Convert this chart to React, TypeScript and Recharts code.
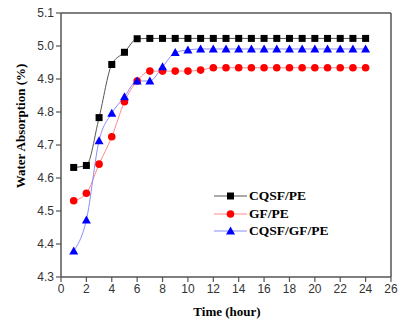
import React from "react";
import { LineChart, Line, XAxis, YAxis, ReferenceLine } from "recharts";

const hours = [1, 2, 3, 4, 5, 6, 7, 8, 9, 10, 11, 12, 13, 14, 15, 16, 17, 18, 19, 20, 21, 22, 23, 24];
const cqsfPE = [4.632, 4.638, 4.783, 4.944, 4.981, 5.022, 5.023, 5.023, 5.023, 5.023, 5.023, 5.023, 5.023, 5.023, 5.023, 5.023, 5.023, 5.023, 5.023, 5.023, 5.023, 5.023, 5.023, 5.023];
const gfPE = [4.531, 4.554, 4.642, 4.725, 4.831, 4.894, 4.924, 4.924, 4.924, 4.924, 4.927, 4.934, 4.934, 4.934, 4.934, 4.934, 4.934, 4.934, 4.934, 4.934, 4.934, 4.934, 4.934, 4.934];
const cqsfGfPE = [4.379, 4.473, 4.713, 4.796, 4.846, 4.894, 4.894, 4.937, 4.98, 4.988, 4.991, 4.991, 4.991, 4.991, 4.991, 4.991, 4.991, 4.991, 4.991, 4.991, 4.991, 4.991, 4.991, 4.991];

const xTicks = [0, 2, 4, 6, 8, 10, 12, 14, 16, 18, 20, 22, 24, 26];
const xMinorTicks = [1, 3, 5, 7, 9, 11, 13, 15, 17, 19, 21, 23, 25];
const yTicks = [4.3, 4.4, 4.5, 4.6, 4.7, 4.8, 4.9, 5.0, 5.1];
const yMinorTicks = [4.35, 4.45, 4.55, 4.65, 4.75, 4.85, 4.95, 5.05];

const seriesNames = ["CQSF/PE", "GF/PE", "CQSF/GF/PE"];

const data = hours.map((h, i) => ({
  time: h,
  a: cqsfPE[i],
  b: gfPE[i],
  c: cqsfGfPE[i],
}));

const AXIS = "#555";
const TICK_FONT = { fontFamily: "Liberation Sans, Arial, sans-serif", fontSize: 12, fill: "#333" };

const SquareDot = (props: any) => {
  const { cx, cy } = props;
  if (cx == null || cy == null) return null;
  return <rect x={cx - 3.5} y={cy - 3.5} width={7} height={7} fill="#000" />;
};
const CircleDot = (props: any) => {
  const { cx, cy } = props;
  if (cx == null || cy == null) return null;
  return <circle cx={cx} cy={cy} r={3.8} fill="#ff0000" />;
};
const TriDot = (props: any) => {
  const { cx, cy } = props;
  if (cx == null || cy == null) return null;
  return <polygon points={`${cx},${cy - 4.5} ${cx - 4.5},${cy + 3.5} ${cx + 4.5},${cy + 3.5}`} fill="#0000ff" />;
};

const legendItems = [
  { name: seriesNames[0], line: "#555", kind: "sq" },
  { name: seriesNames[1], line: "#ff8a8a", kind: "ci" },
  { name: seriesNames[2], line: "#8a8aff", kind: "tr" },
];

const LegendBox = () => (
  <div
    style={{
      position: "absolute",
      left: 214,
      top: 187,
      fontFamily: "Liberation Serif, 'Times New Roman', serif",
      fontWeight: "bold",
      fontSize: 13.5,
      color: "#000",
      lineHeight: "17.7px",
    }}
  >
    {legendItems.map((it) => (
      <div key={it.name} style={{ display: "flex", alignItems: "center", height: 17.7 }}>
        <svg width={35} height={12} style={{ marginRight: 0 }}>
          <line x1={0} y1={6} x2={33} y2={6} stroke={it.line} strokeWidth={1} />
          {it.kind === "sq" && <rect x={13} y={2.5} width={7} height={7} fill="#000" />}
          {it.kind === "ci" && <circle cx={16.5} cy={6} r={3.8} fill="#ff0000" />}
          {it.kind === "tr" && <polygon points="16.5,1.5 12,9.5 21,9.5" fill="#0000ff" />}
        </svg>
        <span>{it.name}</span>
      </div>
    ))}
  </div>
);

export default function App() {
  return (
    <div style={{ position: "absolute", left: 0, top: 0, width: 398, height: 324, background: "#fff" }}>
      <LineChart width={398} height={324} data={data} margin={{ top: 13, right: 7, left: 0, bottom: 0 }}>
        <XAxis
          xAxisId="minor"
          type="number"
          dataKey="time"
          domain={[0, 26]}
          ticks={xMinorTicks}
          height={0}
          tick={false}
          tickSize={3}
          tickLine={{ stroke: AXIS, strokeWidth: 1.2 }}
          axisLine={false}
        />
        <XAxis
          xAxisId="main"
          type="number"
          dataKey="time"
          domain={[0, 26]}
          ticks={xTicks}
          interval={0}
          height={47}
          tickSize={5}
          tick={TICK_FONT}
          tickLine={{ stroke: AXIS, strokeWidth: 1.2 }}
          axisLine={{ stroke: AXIS, strokeWidth: 1.5 }}
          label={{
            content: () => (
              <text x={227} y={316} textAnchor="middle" fontFamily="Liberation Serif, 'Times New Roman', serif" fontWeight="bold" fontSize={13} fill="#000">
                Time (hour)
              </text>
            ),
          }}
        />
        <YAxis
          yAxisId="minor"
          type="number"
          domain={[4.3, 5.1]}
          ticks={yMinorTicks}
          width={0}
          tick={false}
          tickSize={3}
          tickLine={{ stroke: AXIS, strokeWidth: 1.2 }}
          axisLine={false}
        />
        <YAxis
          yAxisId="main"
          type="number"
          domain={[4.3, 5.1]}
          ticks={yTicks}
          interval={0}
          width={61}
          tickSize={5}
          tickFormatter={(v: number) => v.toFixed(1)}
          tick={TICK_FONT}
          tickLine={{ stroke: AXIS, strokeWidth: 1.2 }}
          axisLine={{ stroke: AXIS, strokeWidth: 1.5 }}
          label={{
            content: () => (
              <text x={25} y={126} transform="rotate(-90 25 126)" textAnchor="middle" fontFamily="Liberation Serif, 'Times New Roman', serif" fontWeight="bold" fontSize={13} fill="#000">
                Water Absorption (%)
              </text>
            ),
          }}
        />
        <ReferenceLine xAxisId="main" yAxisId="main" y={5.1} stroke={AXIS} strokeWidth={1.5} />
        <ReferenceLine xAxisId="main" yAxisId="main" x={26} stroke={AXIS} strokeWidth={1.5} />
        <Line xAxisId="main" yAxisId="main" type="monotone" dataKey="a" name={seriesNames[0]} stroke="#555" strokeWidth={1} dot={<SquareDot />} isAnimationActive={false} />
        <Line xAxisId="main" yAxisId="main" type="monotone" dataKey="b" name={seriesNames[1]} stroke="#ff8a8a" strokeWidth={1} dot={<CircleDot />} isAnimationActive={false} />
        <Line xAxisId="main" yAxisId="main" type="monotone" dataKey="c" name={seriesNames[2]} stroke="#8a8aff" strokeWidth={1} dot={<TriDot />} isAnimationActive={false} />
      </LineChart>
      <LegendBox />
    </div>
  );
}
